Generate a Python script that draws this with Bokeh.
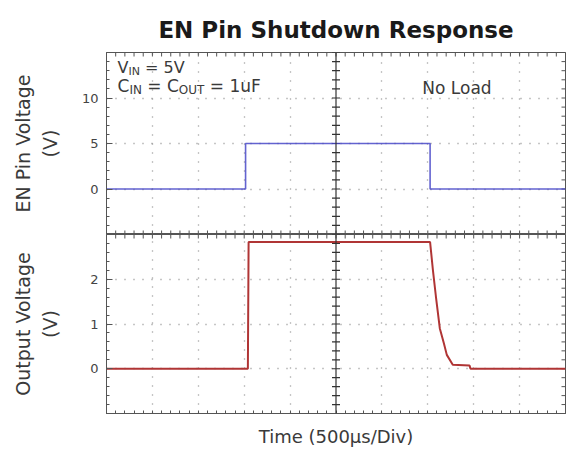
import numpy as np
from bokeh.plotting import figure
from bokeh.layouts import column
from bokeh.models import Range1d, FixedTicker, Grid, Span, Label
from bokeh.embed import file_html
from bokeh.resources import INLINE

# ---------------- data ----------------
en_time_us = [0, 1515, 1515, 3525, 3525, 5000]
en_volts = [0, 0, 5, 5, 0, 0]

out_time_us = [0, 1540, 1548, 3525, 3556, 3588, 3631, 3675, 3707, 3772, 3955, 3965, 5000]
out_volts = [0, 0, 2.83, 2.83, 2.2, 1.62, 0.9, 0.57, 0.31, 0.09, 0.07, 0.0, 0.0]

en_ticks = [0, 5, 10]
out_ticks = [0, 1, 2]
time_div_us = 500
n_div_x = 10
en_range = (-5, 15)
out_range = (-1, 3)

title_text = "EN Pin Shutdown Response"
en_label = "EN Pin Voltage\n(V)"
out_label = "Output Voltage\n(V)"
x_label = "Time (500\u00b5s/Div)"

# ---------------- style ----------------
FONT = "DejaVu Sans"
GRID_COLOR = "#8c8c8c"
FRAME_COLOR = "#555555"
TEXT_COLOR = "#3a3a3a"
EN_COLOR = "#4848c8"
OUT_COLOR = "#b03535"

X_END = time_div_us * n_div_x
X_CENTER = X_END / 2

# DejaVu Sans advance widths (per 1000 em) for label layout
ADV = {"V": 684, "I": 295, "N": 748, " ": 318, "=": 838, "5": 636, "C": 698,
       "O": 787, "U": 732, "T": 611, "1": 636, "u": 634, "F": 575}


def text_w(s, size):
    return sum(ADV.get(c, 620) for c in s) / 1000.0 * size


def stepped_label(p, x, y, pieces):
    off = 0.0
    for txt, size, sub in pieces:
        core = txt.strip()
        lead = len(txt) - len(txt.lstrip())
        off += text_w(" " * lead, size)
        p.add_layout(Label(x=x, y=y, x_offset=off, y_offset=-4 if sub else 0,
                           text=core, text_font=FONT, text_font_size=f"{size}px",
                           text_color=TEXT_COLOR, text_baseline="alphabetic"))
        off += text_w(core, size)


def build_panel(y_lo, y_hi, y_ticks, label, label_standoff, height,
                border_top, border_bottom, with_xaxis):
    p = figure(width=566, height=height,
               x_range=Range1d(0, X_END), y_range=Range1d(y_lo, y_hi),
               output_backend="svg", toolbar_location=None,
               x_axis_location="below" if with_xaxis else None,
               min_border_left=106, min_border_right=1,
               min_border_top=border_top, min_border_bottom=border_bottom)
    p.background_fill_color = "white"
    p.border_fill_color = "white"
    p.outline_line_color = FRAME_COLOR
    p.outline_line_width = 1
    for g in p.grid:
        g.visible = False

    y_step = y_ticks[1] - y_ticks[0]
    minor_y = np.arange(y_lo, y_hi + 1e-9, y_step / 5.0)
    minor_x = np.arange(0, X_END + 1e-9, time_div_us / 5.0)

    # dotted graticule
    xg = [i * time_div_us for i in range(1, n_div_x) if i != n_div_x // 2]
    p.add_layout(Grid(dimension=0, ticker=FixedTicker(ticks=xg),
                      grid_line_color=GRID_COLOR, grid_line_dash="1 8",
                      grid_line_width=1.3))
    p.add_layout(Grid(dimension=1, ticker=FixedTicker(ticks=y_ticks),
                      grid_line_color=GRID_COLOR, grid_line_dash="1 8",
                      grid_line_width=1.3))

    # central vertical axis with cross ticks
    p.add_layout(Span(location=X_CENTER, dimension="height",
                      line_color="#333333", line_width=1.2))
    p.scatter(x=[X_CENTER] * len(minor_y), y=minor_y, marker="dash",
              size=8, line_color="#333333", line_width=1.2)
    # right border ticks (half clipped -> inward)
    p.scatter(x=[X_END] * len(minor_y), y=minor_y, marker="dash",
              size=8, line_color=FRAME_COLOR)
    # top border ticks
    p.scatter(x=minor_x, y=[y_hi] * len(minor_x), marker="dash", angle=np.pi / 2,
              size=8, line_color=FRAME_COLOR)
    if not with_xaxis:
        p.scatter(x=minor_x, y=[y_lo] * len(minor_x), marker="dash", angle=np.pi / 2,
                  size=8, line_color=FRAME_COLOR)

    # left axis
    ya = p.yaxis[0]
    ya.ticker = FixedTicker(ticks=y_ticks, minor_ticks=list(minor_y))
    ya.major_tick_in = 6
    ya.major_tick_out = 0
    ya.minor_tick_in = 3
    ya.minor_tick_out = 0
    ya.axis_line_color = FRAME_COLOR
    ya.major_tick_line_color = FRAME_COLOR
    ya.minor_tick_line_color = FRAME_COLOR
    ya.major_label_text_font = FONT
    ya.major_label_text_font_size = "13px"
    ya.major_label_text_color = "#444444"
    ya.major_label_standoff = 8
    ya.axis_label = label
    ya.axis_label_text_font = FONT
    ya.axis_label_text_font_size = "19px"
    ya.axis_label_text_font_style = "normal"
    ya.axis_label_text_color = TEXT_COLOR
    ya.axis_label_standoff = label_standoff
    ya.axis_label_text_line_height = 1.22

    if with_xaxis:
        xa = p.xaxis[0]
        xa.ticker = FixedTicker(ticks=[], minor_ticks=list(minor_x))
        xa.minor_tick_in = 3
        xa.minor_tick_out = 0
        xa.axis_line_color = FRAME_COLOR
        xa.minor_tick_line_color = FRAME_COLOR
        xa.major_label_standoff = 0
        xa.axis_label = x_label
        xa.axis_label_text_font = FONT
        xa.axis_label_text_font_size = "18px"
        xa.axis_label_text_font_style = "normal"
        xa.axis_label_text_color = TEXT_COLOR
        xa.axis_label_standoff = 12
    return p


p1 = build_panel(en_range[0], en_range[1], en_ticks, en_label, 18, 234, 52, 0, False)
p2 = build_panel(out_range[0], out_range[1], out_ticks, out_label, 26, 215, 0, 36, True)

p1.title.text = title_text
p1.title.align = "center"
p1.title.text_font = FONT
p1.title.text_font_size = "23px"
p1.title.text_font_style = "bold"
p1.title.text_color = "#1a1a1a"
p1.title.standoff = 20

p1.line(en_time_us, en_volts, line_color=EN_COLOR, line_width=1.6, line_alpha=0.85)
p2.line(out_time_us, out_volts, line_color=OUT_COLOR, line_width=2)

# annotations
stepped_label(p1, 120, 13.4, [("V", 16, False), ("IN", 11, True), (" = 5V", 16, False)])
stepped_label(p1, 120, 11.35, [("C", 17, False), ("IN", 12, True), (" = C", 17, False),
                                ("OUT", 12, True), (" = 1uF", 17, False)])
p1.add_layout(Label(x=3440, y=11.05, text="No Load", text_font=FONT,
                    text_font_size="17px", text_color=TEXT_COLOR,
                    text_baseline="alphabetic"))

layout = column(p1, p2, spacing=0)
open("out.html", "w").write(file_html(layout, INLINE))
